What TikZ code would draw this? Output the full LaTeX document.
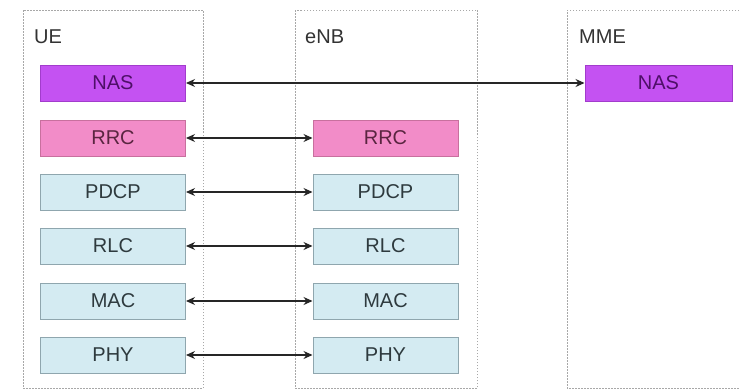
\documentclass[tikz,border=0pt]{standalone}
\usepackage{fontspec}
\setmainfont{Liberation Sans}
\usetikzlibrary{arrows.meta}
\definecolor{nasfill}{HTML}{C452F2}
\definecolor{nasdraw}{HTML}{A23CCC}
\definecolor{nastext}{HTML}{4E0F68}
\definecolor{rrcfill}{HTML}{F28CC8}
\definecolor{rrcdraw}{HTML}{C8709E}
\definecolor{rrctext}{HTML}{5A2540}
\definecolor{layfill}{HTML}{D4EBF2}
\definecolor{laydraw}{HTML}{8FA6AE}
\definecolor{laytext}{HTML}{2E3A3E}
\definecolor{framecol}{HTML}{A8A8A8}
\begin{document}
\begin{tikzpicture}[x=1pt,y=-1pt,
  layer/.style={draw=laydraw, fill=layfill, text=laytext, line width=1pt,
    minimum width=145pt, minimum height=36pt, inner sep=0pt, font=\fontsize{20}{22}\selectfont},
  nas/.style={layer, draw=nasdraw, fill=nasfill, text=nastext},
  rrc/.style={layer, draw=rrcdraw, fill=rrcfill, text=rrctext},
  frame/.style={draw=framecol, line width=0.9pt, dash pattern=on 1.5pt off 1.5pt},
  ent/.style={anchor=west, inner sep=0pt, text=black!80, font=\fontsize{20}{22}\selectfont},
  link/.style={draw=black!85, line width=1.2pt, {Stealth[length=9pt,width=8pt]}-{Stealth[length=9pt,width=8pt]}}
]
\useasboundingbox (0,0) rectangle (739,391);
\fill[white] (0,0) rectangle (739,391);
% frames
\draw[frame] (23,10) rectangle (203,388);
\draw[frame] (295,10) rectangle (477,388);
\draw[frame] (745,10) -- (567,10) -- (567,388) -- (745,388);
\node[ent] (ue) at (34,37) {UE};
\node[ent] (enb) at (305,37) {eNB};
\node[ent] (mme) at (579,37) {MME};
% UE stack
\node[nas] (uenas) at (113,83) {NAS};
\node[rrc] (uerrc) at (113,138) {RRC};
\node[layer] (uepdcp) at (113,192) {PDCP};
\node[layer] (uerlc) at (113,246) {RLC};
\node[layer] (uemac) at (113,301) {MAC};
\node[layer] (uephy) at (113,355) {PHY};
% eNB stack
\node[rrc] (enrrc) at (385.5,138) {RRC};
\node[layer] (enpdcp) at (385.5,192) {PDCP};
\node[layer] (enrlc) at (385.5,246) {RLC};
\node[layer] (enmac) at (385.5,301) {MAC};
\node[layer] (enphy) at (385.5,355) {PHY};
% MME
\node[nas, minimum width=147pt] (mmenas) at (658.5,83) {NAS};
% links
\draw[link] (uenas.east) -- (mmenas.west);
\draw[link] (uerrc.east) -- (enrrc.west);
\draw[link] (uepdcp.east) -- (enpdcp.west);
\draw[link] (uerlc.east) -- (enrlc.west);
\draw[link] (uemac.east) -- (enmac.west);
\draw[link] (uephy.east) -- (enphy.west);
\end{tikzpicture}
\end{document}
